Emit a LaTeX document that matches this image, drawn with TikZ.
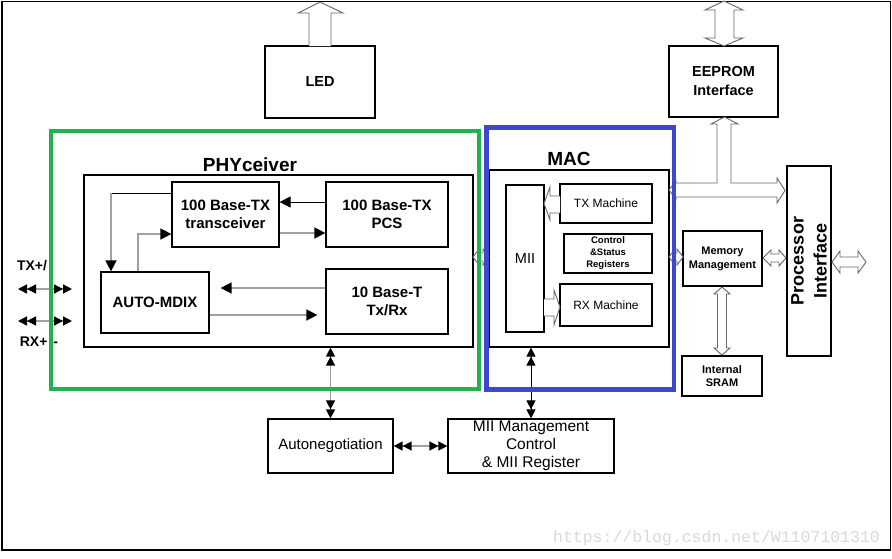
\documentclass[tikz,border=0pt]{standalone}
\usepackage{fontspec}
\setmainfont{Liberation Sans}
\newfontfamily\wmfont{Liberation Mono}
\usetikzlibrary{arrows.meta,calc}
\definecolor{phygreen}{RGB}{34,177,76}
\definecolor{macblue}{RGB}{63,72,204}
\definecolor{lgray}{RGB}{160,160,160}
\tikzset{
  box/.style={draw, line width=1.2pt, inner sep=0pt, align=center, font={\bfseries\fontsize{15}{18}\selectfont}},
  rbox/.style={box, font={\fontsize{15}{18}\selectfont}},
  frame/.style={draw, line width=1.2pt, inner sep=0pt},
  kline/.style={draw=black, line width=1pt},
  gline/.style={draw=lgray, line width=1.4pt},
  sarr/.style={-{Triangle[length=11pt,width=11pt,fill=black,color=black]}},
  dbl/.style={{Triangle[length=9pt,width=9pt,color=black]Triangle[length=9pt,width=9pt,color=black]}-{Triangle[length=9pt,width=9pt,color=black]Triangle[length=9pt,width=9pt,color=black]}},
  blk/.style={draw=black!60, fill=white, line width=0.9pt, line join=miter},
  ttl/.style={font={\bfseries\fontsize{19}{22}\selectfont}},
  lbl/.style={font={\bfseries\fontsize{14}{18}\selectfont}}
}
\begin{document}
\begin{tikzpicture}[x=1pt,y=-1pt]
\useasboundingbox (0,0) rectangle (892,558);
\fill[white] (0,0) rectangle (892,558);
% outer frame
\draw[line width=1.6pt] (2,1.5) rectangle (890.5,550);

% top boxes
\node[box, minimum width=110pt, minimum height=72pt, font={\bfseries\fontsize{14.5}{18}\selectfont}] (led) at (320,82) {LED};
\node[box, minimum width=109pt, minimum height=71pt, font={\bfseries\fontsize{14.5}{19}\selectfont}] (eeprom) at (723.5,81.5) {EEPROM\\Interface};

% PHY
\node[frame, minimum width=389pt, minimum height=172pt] (phybox) at (278.5,261) {};
\node[ttl] (phyttl) at (250,165) {PHYceiver};
\node[box, minimum width=107pt, minimum height=65pt] (trx) at (225.5,214.5) {100 Base-TX\\transceiver};
\node[box, minimum width=122pt, minimum height=65pt] (pcs) at (387,214.5) {100 Base-TX\\PCS};
\node[box, minimum width=108pt, minimum height=61pt] (mdix) at (155,302.5) {AUTO-MDIX};
\node[box, minimum width=122pt, minimum height=65pt] (tenbt) at (387,301.5) {10 Base-T\\Tx/Rx};

% MAC
\node[frame, minimum width=180pt, minimum height=177pt] (macbox) at (579,258.5) {};
\node[ttl] (macttl) at (569,159) {MAC};
\node[rbox, minimum width=38pt, minimum height=147pt, font={\fontsize{14.5}{18}\selectfont}] (mii) at (525,258.5) {MII};
\node[rbox, minimum width=92pt, minimum height=39pt, font={\fontsize{12}{14}\selectfont}] (txm) at (606,203.5) {TX Machine};
\node[box, minimum width=88pt, minimum height=39pt, font={\bfseries\fontsize{9.5}{12}\selectfont}] (csr) at (608,253.5) {Control\\\&Status\\Registers};
\node[rbox, minimum width=92pt, minimum height=42pt, font={\fontsize{12}{14}\selectfont}] (rxm) at (606,305) {RX Machine};

% right side
\node[box, minimum width=79pt, minimum height=55pt, font={\bfseries\fontsize{11}{14}\selectfont}] (memm) at (722.5,258.5) {Memory\\Management};
\node[box, minimum width=44pt, minimum height=190pt] (proc) at (809,261) {};
\node[font={\bfseries\fontsize{18}{23}\selectfont}, rotate=90, align=center] (proctxt) at (proc.center) {Processor\\Interface};
\node[box, minimum width=80pt, minimum height=40pt, font={\bfseries\fontsize{11}{13}\selectfont}] (sram) at (722,376) {Internal\\SRAM};

% bottom
\node[rbox, minimum width=125pt, minimum height=54pt] (autoneg) at (330.5,446) {Autonegotiation};
\node[rbox, minimum width=166pt, minimum height=54pt, font={\fontsize{15.5}{18}\selectfont}] (miim) at (531,446) {MII Management\\Control\\\& MII Register};

% side connectors
\coordinate (txl) at (18,289);
\coordinate (txr) at (72,289);
\coordinate (rxl) at (18,321);
\coordinate (rxr) at (72,321);
\draw[gline,dbl] (txl) -- (txr);
\draw[gline,dbl] (rxl) -- (rxr);

% PHY internal connectors
\draw[kline,sarr] (pcs.west |- 0,202) -- (trx.east |- 0,202);
\draw[gline,sarr] (trx.east |- 0,233) -- (pcs.west |- 0,233);
\coordinate (loopc) at (111,193);
\draw[kline] (trx.west |- loopc) -- (loopc);
\draw[gline,sarr] (loopc) -- (mdix.north -| loopc);
\coordinate (upc) at (138,234);
\draw[gline,sarr] (mdix.north -| upc) |- (trx.west |- upc);
\draw[gline,sarr,shorten >=11pt] (tenbt.west |- 0,288) -- (mdix.east |- 0,288);
\draw[gline,sarr,shorten >=8pt] (mdix.east |- 0,315) -- (tenbt.west |- 0,315);

% vertical / horizontal double arrows at bottom
\draw[gline,dbl] (phybox.south -| autoneg.north) -- (autoneg.north);
\draw[kline,dbl] (macbox.south -| miim.north) -- (miim.north);
\draw[gline,dbl] (autoneg.east) -- (miim.west);

% block arrows
% LED up
\draw[blk] (309,46) -- (309,13) -- (298,13) -- (320,2) -- (343,13) -- (331,13) -- (331,46);
% EEPROM top double
\draw[blk] (724,1) -- (743,10) -- (734,10) -- (734,38) -- (743,38) -- (724,46) -- (705,38) -- (715,38) -- (715,10) -- (705,10) -- cycle;
% EEPROM bottom T
\draw[blk] (717,124) -- (711,124) -- (724.5,117) -- (738,124) -- (731,124) -- (731,183) -- (777,183) -- (777,178) -- (785,190.5) -- (777,203) -- (777,197) -- (676,197) -- (676,199) -- (669,190) -- (676,181) -- (676,183) -- (717,183) -- cycle;
% PHY <-> MAC
\draw[blk] (473,257) -- (479,249) -- (479,253) -- (483,253) -- (483,249) -- (489,257) -- (483,265) -- (483,261) -- (479,261) -- (479,265) -- cycle;
% MAC <-> Memory
\draw[blk] (669,257) -- (675,249) -- (675,253) -- (677,253) -- (677,249) -- (683,257) -- (677,265) -- (677,261) -- (675,261) -- (675,265) -- cycle;
% Memory <-> Processor
\draw[blk] (763,258) -- (771,250) -- (771,254) -- (779,254) -- (779,250) -- (786,258) -- (779,266) -- (779,262) -- (771,262) -- (771,266) -- cycle;
% Processor <-> outside
\draw[blk] (832,262) -- (840,251) -- (840,257) -- (858,257) -- (858,251) -- (866,262) -- (858,273) -- (858,267) -- (840,267) -- (840,273) -- cycle;
% Memory <-> SRAM
\draw[blk] (722,287) -- (730,294) -- (726.5,294) -- (726.5,348) -- (730,348) -- (722,355) -- (714,348) -- (717.5,348) -- (717.5,294) -- (714,294) -- cycle;
% TX Machine -> MII
\draw[blk] (560,196) -- (550,196) -- (550,187) -- (544,203.5) -- (550,220) -- (550,213) -- (560,213);
% MII -> RX Machine
\draw[blk] (544,299) -- (554,299) -- (554,290) -- (560,307) -- (554,325) -- (554,316) -- (544,316);

% coloured frames
\draw[phygreen, line width=4.3pt] (51.3,131) rectangle (479,389);
\draw[macblue, line width=4.8pt] (486.5,127.5) rectangle (674,389.5);

% side labels
\node[lbl] (txlbl) at (32,266) {TX+/};
\node[lbl] (rxlbl) at (39,342) {RX+\hspace{6pt}-};

% watermark
\node[font={\wmfont\fontsize{16.5}{18}\selectfont}, text=black!15] (wm) at (716.5,538) {https://blog.csdn.net/W1107101310};
\end{tikzpicture}
\end{document}
